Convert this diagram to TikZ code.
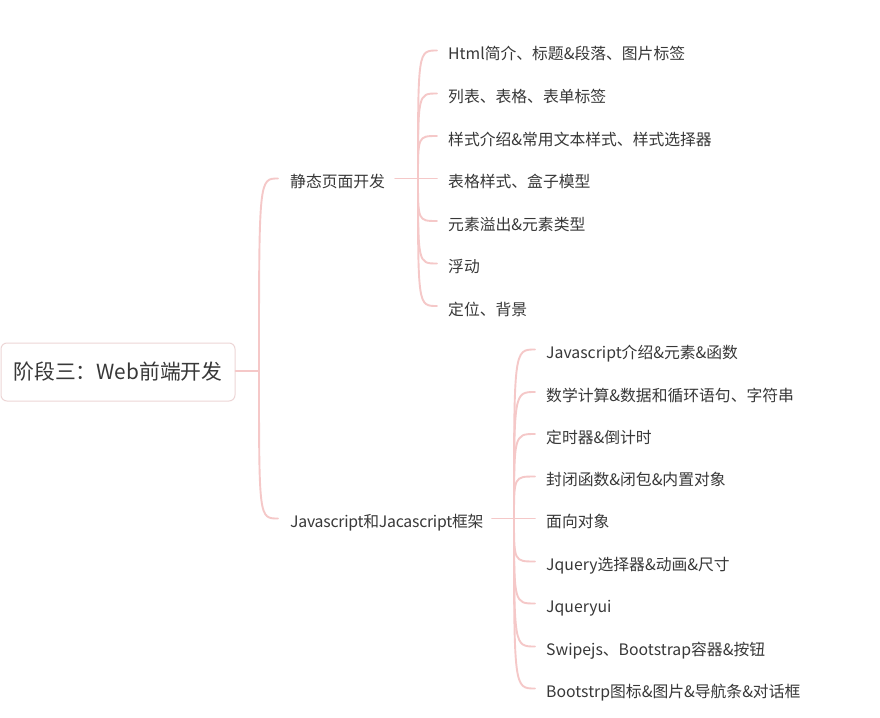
\documentclass[tikz,border=0pt]{standalone}
\usepackage{fontspec}
\setmainfont{Noto Sans CJK SC}
\usetikzlibrary{calc}
\definecolor{linec}{HTML}{F5C8C8}
\definecolor{txt}{HTML}{383838}
\definecolor{boxc}{HTML}{EDD6D6}
\newcommand\mmlink[3]{%
  \coordinate (#2in) at ([xshift=-#3,yshift=3.5pt]#2.west);
  \draw[conn] (#1) .. controls (#1|-#2in) and (#1|-#2in) .. (#2in);}
\begin{document}
\begin{tikzpicture}[x=1pt,y=-1pt,
  conn/.style={draw=linec,line width=1.9pt,line cap=round},
  leaf/.style={anchor=west,inner sep=0pt,text=txt,text height=13.5pt,text depth=2pt,font=\fontsize{15.8}{18}\selectfont},
  rootbox/.style={draw=boxc,line width=1pt,rounded corners=6pt,fill=white,minimum width=234pt,minimum height=58pt,text=txt,font=\fontsize{20.8}{24}\selectfont}]
\useasboundingbox[fill=white] (0,0) rectangle (880,717);

\node[rootbox] (root) at (118,372) {阶段三：Web前端开发};

\node[leaf] (b1) at (290,182) {静态页面开发};
\node[leaf] (b2) at (290,522) {\addfontfeatures{LetterSpace=-1.5}Javascript和Jacascript框架};

\node[leaf] (a1) at (448,54) {Html简介、标题\&段落、图片标签};
\node[leaf] (a2) at (448,97) {列表、表格、表单标签};
\node[leaf] (a3) at (448,139.5) {样式介绍\&常用文本样式、样式选择器};
\node[leaf] (a4) at (448,182) {表格样式、盒子模型};
\node[leaf] (a5) at (448,224.5) {元素溢出\&元素类型};
\node[leaf] (a6) at (448,267) {浮动};
\node[leaf] (a7) at (448,309.5) {定位、背景};

\node[leaf] (c1) at (546,353) {Javascript介绍\&元素\&函数};
\node[leaf] (c2) at (546,395.5) {数学计算\&数据和循环语句、字符串};
\node[leaf] (c3) at (546,437.5) {定时器\&倒计时};
\node[leaf] (c4) at (546,480) {封闭函数\&闭包\&内置对象};
\node[leaf] (c5) at (546,522) {面向对象};
\node[leaf] (c6) at (546,565) {Jquery选择器\&动画\&尺寸};
\node[leaf] (c7) at (546,607) {Jqueryui};
\node[leaf] (c8) at (546,650) {Swipejs、Bootstrap容器\&按钮};
\node[leaf] (c9) at (546,692) {Bootstrp图标\&图片\&导航条\&对话框};

\coordinate (j0) at (259,371);
\draw[conn] (root.east |- j0) -- (j0);
\mmlink{j0}{b1}{12pt}
\mmlink{j0}{b2}{12pt}

\coordinate (j1) at (418,178.5);
\draw[conn] ([xshift=10pt,yshift=3.5pt]b1.east) -- (j1);
\foreach \n in {a1,a2,a3,a4,a5,a6,a7}{\mmlink{j1}{\n}{11pt}}

\coordinate (j2) at (514,518.5);
\draw[conn] ([xshift=-22pt]j2) -- (j2);
\foreach \n in {c1,c2,c3,c4,c5,c6,c7,c8,c9}{\mmlink{j2}{\n}{11pt}}
\end{tikzpicture}
\end{document}
